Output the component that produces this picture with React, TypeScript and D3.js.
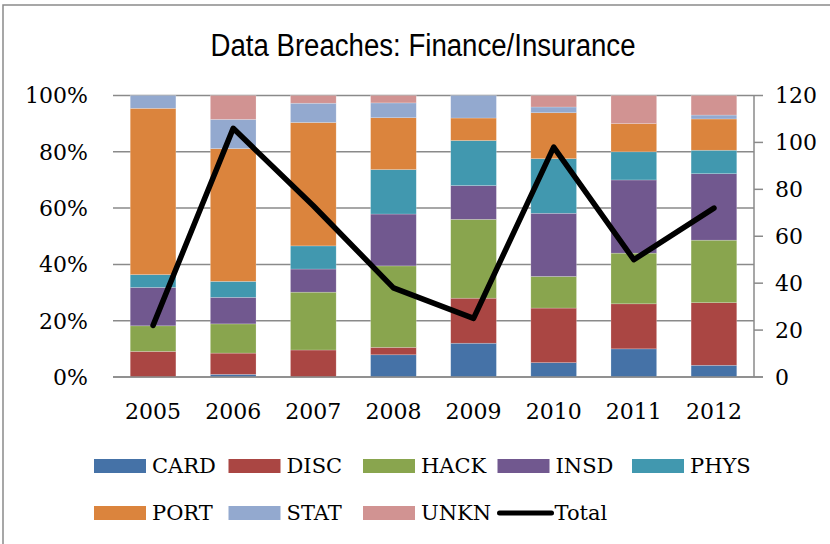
import React from "react";
import * as d3 from "d3";

const years = ["2005", "2006", "2007", "2008", "2009", "2010", "2011", "2012"];
const seriesNames = ["CARD", "DISC", "HACK", "INSD", "PHYS", "PORT", "STAT", "UNKN"];
const card = [0, 1, 0, 3, 3, 5, 5, 3];
const disc = [2, 8, 7, 1, 4, 19, 8, 16];
const hack = [2, 11, 15, 11, 7, 11, 9, 16];
const insd = [3, 10, 6, 7, 3, 22, 13, 17];
const phys = [1, 6, 6, 6, 4, 19, 5, 6];
const port = [13, 50, 32, 7, 2, 16, 5, 8];
const stat = [1, 11, 5, 2, 2, 2, 0, 1];
const unkn = [0, 9, 2, 1, 0, 4, 5, 5];
const totals = [22, 106, 73, 38, 25, 98, 50, 72];
const leftTicks = [0, 0.2, 0.4, 0.6, 0.8, 1];
const rightTicks = [0, 20, 40, 60, 80, 100, 120];

const colors = ["#4572A7", "#AA4643", "#89A54E", "#71588F", "#4198AF", "#DB843D", "#93A9CF", "#D19392"];

const W = 830;
const H = 544;
const plot = { left: 113, right: 754, top: 95.5, bottom: 377 };
const serif = "'DejaVu Serif', serif";

const App: React.FC = () => {
  const values = [card, disc, hack, insd, phys, port, stat, unkn];
  const rows = years.map((y, i) => {
    const row: Record<string, number | string> = { year: y };
    seriesNames.forEach((s, k) => (row[s] = values[k][i]));
    return row;
  });

  // 100% stacked bars
  const stack = d3
    .stack<Record<string, number | string>>()
    .keys(seriesNames)
    .value((d, key) => d[key] as number)
    .offset(d3.stackOffsetExpand);
  const layers = stack(rows);

  const x = d3
    .scaleBand<string>()
    .domain(years)
    .range([plot.left, plot.right])
    .paddingInner(0.43)
    .paddingOuter(0.215);
  const yPct = d3.scaleLinear().domain([0, 1]).range([plot.bottom, plot.top]);
  const yTot = d3.scaleLinear().domain([0, 120]).range([plot.bottom, plot.top]);

  const line = d3
    .line<number>()
    .x((_, i) => (x(years[i]) as number) + x.bandwidth() / 2)
    .y((d) => yTot(d));

  const legendItems = [...seriesNames.map((s, i) => ({ name: s, color: colors[i], line: false })), { name: "Total", color: "#000", line: true }];

  return (
    <svg width={W} height={H} style={{ position: "absolute", left: 0, top: 0, background: "#fff" }}>
      <rect x={3} y={5} width={850} height={560} fill="#fff" stroke="#8a8a8a" strokeWidth={1.5} />

      <text
        x={423}
        y={56}
        textAnchor="middle"
        fontFamily="'Liberation Sans Narrow', 'Liberation Sans', Arial, sans-serif"
        fontSize={31}
        textLength={425}
        lengthAdjust="spacingAndGlyphs"
      >
        Data Breaches: Finance/Insurance
      </text>

      {/* gridlines */}
      {leftTicks.map((t) => (
        <line key={"g" + t} x1={plot.left} x2={plot.right} y1={yPct(t)} y2={yPct(t)} stroke="#8a8a8a" strokeWidth={1.5} />
      ))}
      {leftTicks.map((t) => (
        <text key={"l" + t} x={88} y={yPct(t)} dy="0.36em" textAnchor="end" fontFamily={serif} fontSize={22}>
          {d3.format(".0%")(t)}
        </text>
      ))}

      {/* bars */}
      {layers.map((layer, k) => (
        <g key={layer.key} fill={colors[k]}>
          {layer.map((d, i) => (
            <rect
              key={i}
              x={x(years[i])}
              width={x.bandwidth()}
              y={yPct(d[1])}
              height={Math.max(0, yPct(d[0]) - yPct(d[1]))}
              stroke="#fff"
              strokeOpacity={0.35}
              strokeWidth={0.6}
            />
          ))}
        </g>
      ))}

      {/* axes */}
      <line x1={plot.left} x2={plot.right + 9} y1={plot.bottom} y2={plot.bottom} stroke="#8a8a8a" strokeWidth={1.5} />
      <line x1={plot.right} x2={plot.right} y1={plot.top} y2={plot.bottom} stroke="#8a8a8a" strokeWidth={1.5} />
      {rightTicks.map((t) => (
        <g key={"r" + t}>
          <line x1={plot.right} x2={plot.right + 9} y1={yTot(t)} y2={yTot(t)} stroke="#8a8a8a" strokeWidth={1.5} />
          <text x={775} y={yTot(t)} dy="0.36em" fontFamily={serif} fontSize={22}>
            {t}
          </text>
        </g>
      ))}
      {years.map((y) => (
        <text key={y} x={(x(y) as number) + x.bandwidth() / 2} y={419} textAnchor="middle" fontFamily={serif} fontSize={22}>
          {y}
        </text>
      ))}

      {/* total line */}
      <path d={line(totals) || ""} fill="none" stroke="#000" strokeWidth={5.5} strokeLinejoin="round" strokeLinecap="round" />

      {/* legend */}
      {legendItems.map((it, i) => {
        const col = i % 5;
        const row = Math.floor(i / 5);
        const lx = 94 + col * 134.5;
        const ly = 459 + row * 47;
        return (
          <g key={it.name}>
            {it.line ? (
              <line x1={lx + 2} x2={lx + 54} y1={ly + 7} y2={ly + 7} stroke="#000" strokeWidth={5} strokeLinecap="round" />
            ) : (
              <rect x={lx} y={ly} width={52} height={14} fill={it.color} />
            )}
            <text x={lx + (it.line ? 57 : 58)} y={ly + 14} fontFamily={serif} fontSize={21}>
              {it.name}
            </text>
          </g>
        );
      })}
    </svg>
  );
};

export default App;
